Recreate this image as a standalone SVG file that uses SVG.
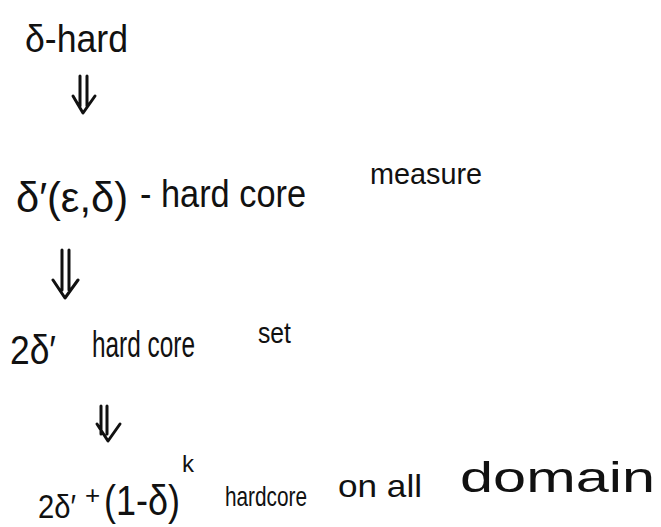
<svg xmlns="http://www.w3.org/2000/svg" width="661" height="527" viewBox="0 0 661 527">
<style>
text{font-family:"Liberation Sans","DejaVu Sans",sans-serif;fill:#111}
.arr{fill:none;stroke:#111;stroke-width:3;stroke-linecap:round;stroke-linejoin:round}
</style>
<rect width="661" height="527" fill="#fff"/>
<g id="n1"><text x="25" y="52" font-size="38" textLength="103" lengthAdjust="spacingAndGlyphs">δ-hard</text></g>
<g id="n2">
<text x="16" y="212" font-size="42" textLength="112" lengthAdjust="spacingAndGlyphs">δ′(ε,δ)</text>
<text x="140" y="207" font-size="38" textLength="166" lengthAdjust="spacingAndGlyphs">- hard core</text>
<text x="370" y="184" font-size="30" textLength="112" lengthAdjust="spacingAndGlyphs">measure</text>
</g>
<g id="n3">
<text x="10" y="364" font-size="40" textLength="46" lengthAdjust="spacingAndGlyphs">2δ′</text>
<text x="92" y="357" font-size="36" textLength="103" lengthAdjust="spacingAndGlyphs">hard core</text>
<text x="258" y="343" font-size="30" textLength="33" lengthAdjust="spacingAndGlyphs">set</text>
</g>
<g id="n4">
<text x="38" y="518" font-size="34" textLength="38" lengthAdjust="spacingAndGlyphs">2δ′</text>
<text x="85" y="504" font-size="26">+</text>
<text x="104" y="515" font-size="42" textLength="76" lengthAdjust="spacingAndGlyphs">(1-δ)</text>
<text x="182" y="472" font-size="24">k</text>
<text x="225" y="506" font-size="28" textLength="82" lengthAdjust="spacingAndGlyphs">hardcore</text>
<text x="338" y="497" font-size="32" textLength="84" lengthAdjust="spacingAndGlyphs">on all</text>
<text x="460" y="492" font-size="42" textLength="195" lengthAdjust="spacingAndGlyphs">domain</text>
</g>
<g id="connectors">
<path class="arr" d="M80 76 V106 M87 76 V106 M73 96 L83 113 L95 96"/>
<path class="arr" d="M62 250 V290 M69 250 V290 M53 280 L65 298 L78 280"/>
<path class="arr" d="M101 406 V434 M107 406 V434 M97 424 L108 441 L120 424"/>
</g>
</svg>
